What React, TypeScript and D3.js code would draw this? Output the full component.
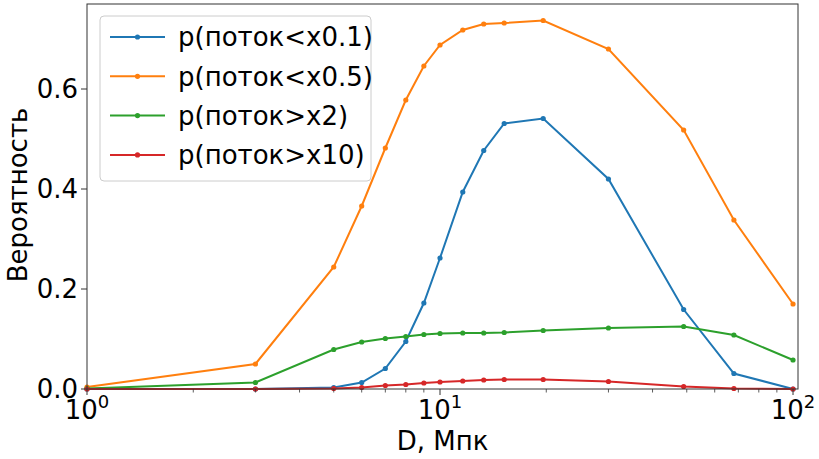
import { useEffect, useRef } from "react";
import * as d3 from "d3";

// distances, Mpc
const distances = [1, 3, 5, 6, 7, 8, 9, 10, 11.6, 13.3, 15.2, 19.6, 30, 49, 68, 100];

const pBelow01 = [0, 0, 0.003, 0.013, 0.041, 0.095, 0.172, 0.262, 0.394, 0.477, 0.531, 0.541, 0.42, 0.159, 0.031, 0.0];
const pBelow05 = [0.004, 0.05, 0.244, 0.366, 0.482, 0.578, 0.646, 0.688, 0.718, 0.73, 0.732, 0.737, 0.68, 0.518, 0.338, 0.17];
const pAbove2 = [0.001, 0.013, 0.079, 0.094, 0.101, 0.105, 0.109, 0.111, 0.112, 0.112, 0.113, 0.117, 0.122, 0.125, 0.108, 0.058];
const pAbove10 = [0, 0, 0.001, 0.003, 0.007, 0.009, 0.012, 0.014, 0.016, 0.018, 0.019, 0.019, 0.015, 0.005, 0.001, 0];

const seriesNames = ["p(поток<x0.1)", "p(поток<x0.5)", "p(поток>x2)", "p(поток>x10)"];
const seriesColors = ["#1f77b4", "#ff7f0e", "#2ca02c", "#d62728"];
const yTicks = [0, 0.2, 0.4, 0.6];
const xMajor = [1, 10, 100];

const W = 819;
const H = 459;
const M = { top: 4, right: 21, bottom: 70, left: 87 };
const FONT = "DejaVu Sans, sans-serif";
const FS = 26;

export default function App() {
  const svgRef = useRef<SVGSVGElement>(null);

  useEffect(() => {
    const svg = d3.select(svgRef.current);
    svg.selectAll("*").remove();
    svg.attr("width", W).attr("height", H).attr("viewBox", `0 0 ${W} ${H}`);

    svg.append("rect").attr("width", W).attr("height", H).attr("fill", "#fff");

    const pw = W - M.left - M.right;
    const ph = H - M.top - M.bottom;

    const x = d3.scaleLog().domain([1, 103.3]).range([0, pw]);
    const y = d3.scaleLinear().domain([0, 0.77]).range([ph, 0]);

    const g = svg.append("g").attr("transform", `translate(${M.left},${M.top})`);

    const all = [pBelow01, pBelow05, pAbove2, pAbove10];
    const line = d3.line<number>()
      .x((_, i) => x(distances[i]))
      .y((d) => y(d));

    all.forEach((vals, k) => {
      g.append("path")
        .datum(vals)
        .attr("d", line)
        .attr("fill", "none")
        .attr("stroke", seriesColors[k])
        .attr("stroke-width", 2);
      g.selectAll(null)
        .data(vals)
        .enter()
        .append("circle")
        .attr("cx", (_, i) => x(distances[i]))
        .attr("cy", (d) => y(d))
        .attr("r", 2.6)
        .attr("fill", seriesColors[k]);
    });

    // frame
    g.append("rect")
      .attr("width", pw)
      .attr("height", ph)
      .attr("fill", "none")
      .attr("stroke", "#333")
      .attr("stroke-width", 1);

    // x ticks (log, with minor ticks)
    const minor: number[] = [];
    for (const dec of [1, 10]) for (let m = 2; m <= 9; m++) minor.push(dec * m);
    minor.forEach((v) => {
      g.append("line")
        .attr("x1", x(v)).attr("x2", x(v))
        .attr("y1", ph).attr("y2", ph + 3.5)
        .attr("stroke", "#333").attr("stroke-width", 0.8);
    });
    xMajor.forEach((v) => {
      g.append("line")
        .attr("x1", x(v)).attr("x2", x(v))
        .attr("y1", ph).attr("y2", ph + 6)
        .attr("stroke", "#333").attr("stroke-width", 1);
      const t = g.append("text")
        .attr("x", x(v))
        .attr("y", ph + 30)
        .attr("text-anchor", "middle")
        .attr("font-family", FONT)
        .attr("font-size", FS)
        .attr("fill", "#000");
      t.append("tspan").text("10");
      t.append("tspan")
        .attr("font-size", 18)
        .attr("dy", -11)
        .text(String(Math.round(Math.log10(v))));
    });

    // y ticks
    yTicks.forEach((v) => {
      g.append("line")
        .attr("x1", -6).attr("x2", 0)
        .attr("y1", y(v)).attr("y2", y(v))
        .attr("stroke", "#333").attr("stroke-width", 1);
      g.append("text")
        .attr("x", -9)
        .attr("y", y(v))
        .attr("dy", "0.36em")
        .attr("text-anchor", "end")
        .attr("font-family", FONT)
        .attr("font-size", FS)
        .attr("fill", "#000")
        .text(v.toFixed(1));
    });

    // axis labels
    g.append("text")
      .attr("x", pw / 2)
      .attr("y", ph + 61)
      .attr("text-anchor", "middle")
      .attr("font-family", FONT)
      .attr("font-size", FS)
      .attr("fill", "#000")
      .text("D, Мпк");

    g.append("text")
      .attr("transform", `translate(${-60},${ph / 2 - 1.5}) rotate(-90)`)
      .attr("text-anchor", "middle")
      .attr("font-family", FONT)
      .attr("font-size", FS)
      .attr("fill", "#000")
      .text("Вероятность");

    // legend
    const lg = svg.append("g").attr("transform", "translate(100,16)");
    lg.append("rect")
      .attr("width", 271)
      .attr("height", 165)
      .attr("rx", 4)
      .attr("fill", "#fff")
      .attr("fill-opacity", 0.8)
      .attr("stroke", "#ccc")
      .attr("stroke-width", 1);
    seriesNames.forEach((name, k) => {
      const cy = 21 + k * 39.3;
      lg.append("line")
        .attr("x1", 10).attr("x2", 65)
        .attr("y1", cy).attr("y2", cy)
        .attr("stroke", seriesColors[k])
        .attr("stroke-width", 2);
      lg.append("circle")
        .attr("cx", 37.5).attr("cy", cy).attr("r", 2.6)
        .attr("fill", seriesColors[k]);
      lg.append("text")
        .attr("x", 78)
        .attr("y", cy)
        .attr("dy", "0.36em")
        .attr("font-family", FONT)
        .attr("font-size", FS)
        .attr("fill", "#000")
        .text(name);
    });
  }, []);

  return (
    <div style={{ position: "absolute", left: 0, top: 0 }}>
      <svg ref={svgRef} />
    </div>
  );
}
